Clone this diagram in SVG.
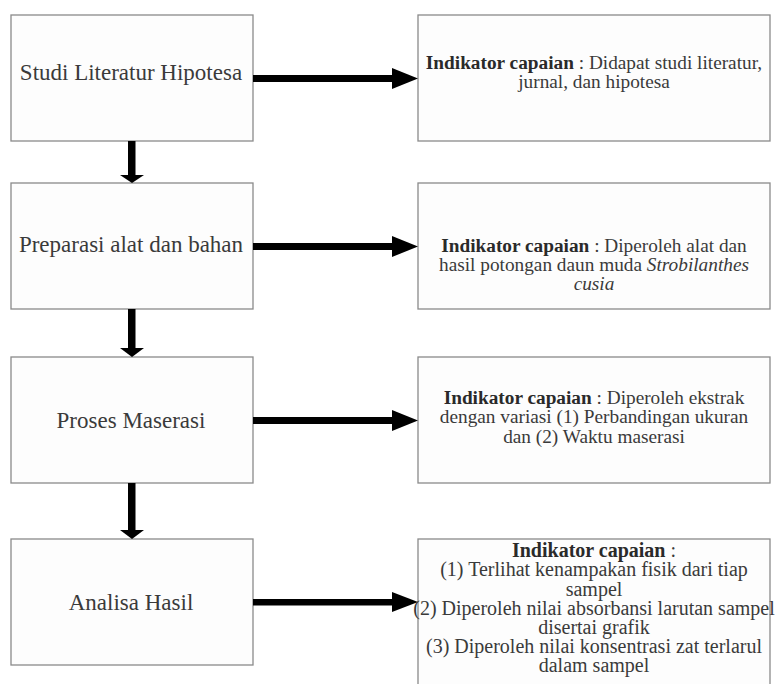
<svg xmlns="http://www.w3.org/2000/svg" width="782" height="684" viewBox="0 0 782 684">
<style>
.box{fill:#fdfdfd;stroke:#8a8a8a;stroke-width:1.3}
.lt{font-family:"Liberation Serif","Times New Roman",serif;font-size:23px;fill:#3a3a3a;text-anchor:middle}
.rt{font-family:"Liberation Serif","Times New Roman",serif;font-size:19.3px;fill:#3a3a3a;text-anchor:middle}
.r4{font-size:20px}
.b{font-weight:bold;fill:#2a2a2a}
.i{font-style:italic}
.shaft{fill:#000}
</style>
<rect width="782" height="684" fill="#ffffff"/>
<g id="n1"><rect class="box" x="11" y="15" width="242" height="126"/><text class="lt" x="131" y="80">Studi Literatur Hipotesa</text></g>
<g id="n2"><rect class="box" x="11" y="183" width="242" height="126"/><text class="lt" x="131" y="252">Preparasi alat dan bahan</text></g>
<g id="n3"><rect class="box" x="11" y="357" width="242" height="126"/><text class="lt" x="131" y="428">Proses Maserasi</text></g>
<g id="n4"><rect class="box" x="11" y="539" width="242" height="126"/><text class="lt" x="131" y="610">Analisa Hasil</text></g>
<g id="r1"><rect class="box" x="418" y="15" width="352" height="126"/>
<text class="rt" x="594" y="69"><tspan class="b">Indikator capaian</tspan> : Didapat studi literatur,</text>
<text class="rt" x="594" y="88">jurnal, dan hipotesa</text></g>
<g id="r2"><rect class="box" x="418" y="183" width="352" height="126"/>
<text class="rt" x="594" y="252"><tspan class="b">Indikator capaian</tspan> : Diperoleh alat dan</text>
<text class="rt" x="594" y="271">hasil potongan daun muda <tspan class="i">Strobilanthes</tspan></text>
<text class="rt i" x="594" y="290">cusia</text></g>
<g id="r3"><rect class="box" x="418" y="357" width="352" height="126"/>
<text class="rt" x="594" y="404"><tspan class="b">Indikator capaian</tspan> : Diperoleh ekstrak</text>
<text class="rt" x="594" y="423">dengan variasi (1) Perbandingan ukuran</text>
<text class="rt" x="594" y="443">dan (2) Waktu maserasi</text></g>
<g id="r4"><rect class="box" x="418" y="539" width="352" height="150"/>
<text class="rt r4" x="594" y="557"><tspan class="b">Indikator capaian</tspan> :</text>
<text class="rt r4" x="594" y="576">(1) Terlihat kenampakan fisik dari tiap</text>
<text class="rt r4" x="594" y="596">sampel</text>
<text class="rt r4" x="594" y="615">(2) Diperoleh nilai absorbansi larutan sampel</text>
<text class="rt r4" x="594" y="634">disertai grafik</text>
<text class="rt r4" x="594" y="653">(3) Diperoleh nilai konsentrasi zat terlarul</text>
<text class="rt r4" x="594" y="672">dalam sampel</text></g>
<g id="connectors">
<rect class="shaft" x="253" y="75" width="140" height="7"/><polygon points="392,68 418,78.5 392,89" fill="#000"/>
<rect class="shaft" x="253" y="243" width="140" height="7"/><polygon points="392,236 418,246.5 392,257" fill="#000"/>
<rect class="shaft" x="253" y="417" width="140" height="7"/><polygon points="392,410 418,420.5 392,431" fill="#000"/>
<rect class="shaft" x="253" y="599" width="140" height="6.5"/><polygon points="392,592 418,602 392,612" fill="#000"/>
<rect class="shaft" x="128" y="141" width="7.5" height="35"/><polygon points="120,175 144,175 132,183" fill="#000"/>
<rect class="shaft" x="128" y="309" width="7.5" height="40"/><polygon points="120,348 144,348 132,357" fill="#000"/>
<rect class="shaft" x="128" y="483" width="7.5" height="48"/><polygon points="120,530 144,530 132,539" fill="#000"/>
</g>
</svg>
